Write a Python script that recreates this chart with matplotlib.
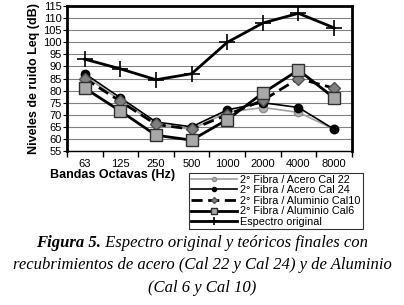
import numpy as np
import matplotlib.pyplot as plt

bandas = ["63", "125", "250", "500", "1000", "2000", "4000", "8000"]
acero22 = [86, 76, 66, 64, 71, 73, 71, 64]
acero24 = [87, 77, 67, 65, 72, 75, 73, 64]
alum10 = [85, 75.5, 66, 64, 70, 76, 85, 81]
alum6 = [81, 71.5, 61.5, 59.5, 68, 79, 88.5, 77]
original = [93, 89, 84.5, 87, 100, 108, 112, 106]

plt.rcParams['font.family'] = ['Liberation Sans', 'DejaVu Sans']

fig = plt.figure(figsize=(4.04, 3.05), dpi=100)
ax = fig.add_axes([0.166, 0.505, 0.705, 0.475])
x = np.arange(len(bandas))

ax.plot(x, acero22, color='#a0a0a0', lw=1.2, marker='o', ms=6,
        mfc='#b0b0b0', mec='#909090', label='2° Fibra / Acero Cal 22', zorder=3)
ax.plot(x, acero24, color='black', lw=1.2, marker='o', ms=6,
        mfc='black', mec='black', label='2° Fibra / Acero Cal 24', zorder=3)
ax.plot(x, alum10, color='black', lw=2, ls=(0, (4, 2)), marker='D', ms=6,
        mfc='#808080', mec='#505050', label='2° Fibra / Aluminio Cal10', zorder=4)
ax.plot(x, alum6, color='black', lw=2, marker='s', ms=9,
        mfc='#a8a8a8', mec='#303030', label='2° Fibra / Aluminio Cal6', zorder=5)
ax.plot(x, original, color='black', lw=2, marker='+', ms=12, mew=1.2,
        label='Espectro original', zorder=5)

ax.set_xlim(-0.5, len(bandas) - 0.5)
ax.set_ylim(55, 115)
ax.set_yticks(range(55, 116, 5))
ax.set_xticks(x)
ax.set_xticklabels(bandas)
ax.set_xticks(np.arange(-0.5, len(bandas)), minor=True)
ax.tick_params(axis='x', which='major', length=0, labelsize=8, pad=6)
ax.tick_params(axis='x', which='minor', length=4, width=1)
ax.tick_params(axis='y', labelsize=8, length=3, pad=1)
ax.yaxis.grid(True, color='#808080', lw=0.8)
ax.set_axisbelow(True)
for s in ax.spines.values():
    s.set_linewidth(2)
ax.spines['bottom'].set_linewidth(1)

ax.set_ylabel('Niveles de ruido Leq (dB)', fontsize=9, fontweight='bold', labelpad=2)
fig.text(0.125, 0.415, 'Bandas Octavas (Hz)', fontsize=9, fontweight='bold')

leg = fig.legend(loc='upper left', bbox_to_anchor=(0.455, 0.452), fontsize=7.8,
                 frameon=True, fancybox=False, edgecolor='black', handlelength=4.2,
                 borderpad=0.2, labelspacing=0.05, handletextpad=0.3, markerscale=0.5)
leg.get_frame().set_linewidth(0.8)

cap = dict(family=['Liberation Serif', 'DejaVu Serif'], fontsize=12, style='italic',
           va='center')
# first caption line: bold "Figura 5." followed by the rest, centred together
t_a = fig.text(0.5, 0.203, 'Figura 5.', fontweight='bold', ha='left', **cap)
t_b = fig.text(0.5, 0.203, ' Espectro original y teóricos finales con', ha='left', **cap)
fig.canvas.draw()
r = fig.canvas.get_renderer()
wa = t_a.get_window_extent(r).width / fig.bbox.width
wb = t_b.get_window_extent(r).width / fig.bbox.width
x0 = 0.5 - (wa + wb) / 2
t_a.set_x(x0)
t_b.set_x(x0 + wa)
fig.text(0.5, 0.130, 'recubrimientos de acero (Cal 22 y Cal 24) y de Aluminio', ha='center', **cap)
fig.text(0.5, 0.056, '(Cal 6 y Cal 10)', ha='center', **cap)

fig.savefig('out.png', dpi=100)
